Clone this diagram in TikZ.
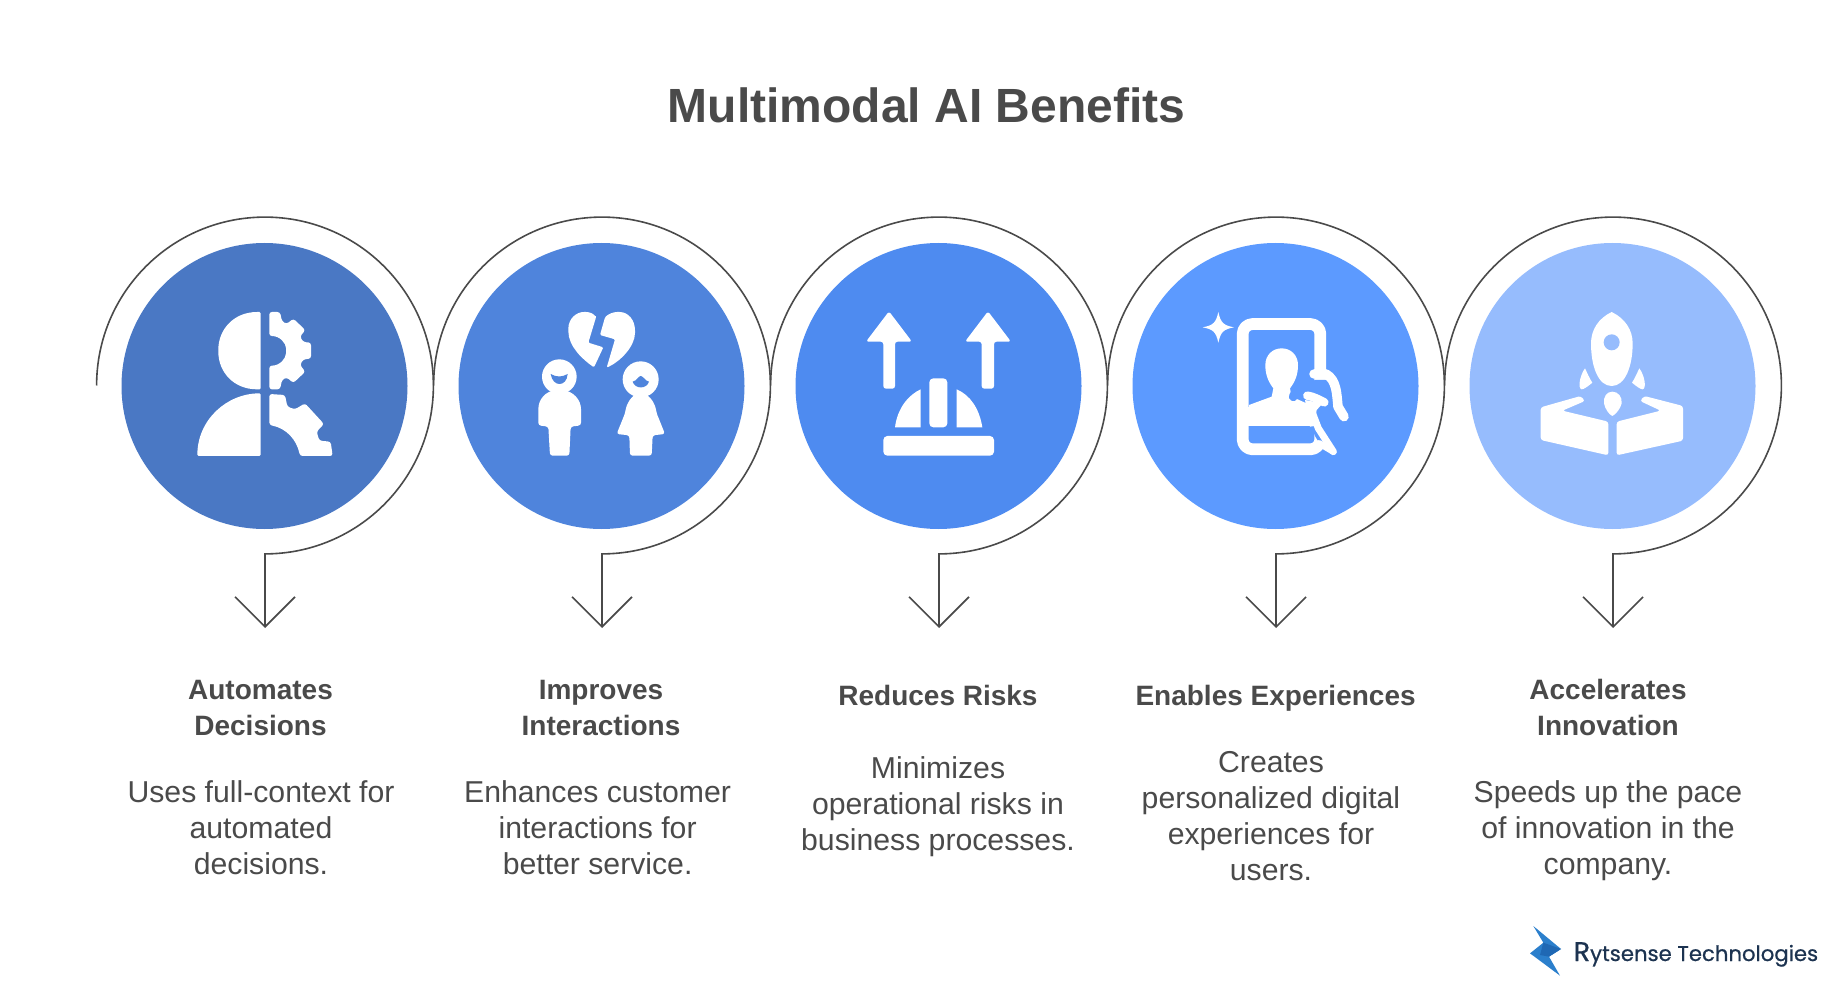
\documentclass[tikz,border=0pt]{standalone}
\usepackage{fontspec}
\setmainfont{Liberation Sans}
\newfontfamily\logofont[FakeBold=0.7]{Poppins}
\usetikzlibrary{arrows.meta}
\tikzset{
  badge/.style={circle, minimum size=286pt, inner sep=0pt},
  ringline/.style={draw=linegray, line width=1.6pt, -{Straight Barb[length=30pt,width=60pt]}},
  headtext/.style={anchor=base, align=center, text=textgray, font=\fontsize{28}{36}\selectfont\bfseries},
  bodytext/.style={anchor=base, align=center, text=textgray, font=\fontsize{30.2}{36}\selectfont},
  iconfill/.style={fill=white, rounded corners=1.2pt},
  iconsoft/.style={fill=white, rounded corners=2.6pt},
  iconline/.style={draw=white, line cap=round, line join=round}
}
\begin{document}
\begin{tikzpicture}[x=1pt,y=-1pt]
    \definecolor{linegray}{HTML}{4A4A4A}
    \definecolor{textgray}{HTML}{4A4A4A}
    \definecolor{bluea}{HTML}{4A78C4}
    \definecolor{blueb}{HTML}{4F84DC}
    \definecolor{bluec}{HTML}{4E8BF0}
    \definecolor{blued}{HTML}{5C9AFF}
    \definecolor{bluee}{HTML}{96BCFD}
    \definecolor{logoblue}{HTML}{2B7FCC}
    \definecolor{logodark}{HTML}{1F68B4}
    \definecolor{logotext}{HTML}{1C3350}

    \useasboundingbox (0,0) rectangle (1848,1008);

    \node[anchor=base, text=textgray, font=\fontsize{48}{48}\selectfont\bfseries] (title) at (926.5,123) {Multimodal AI Benefits};

    \node[badge, fill=bluea] (circ1) at (264.5,386) {};
    \node[badge, fill=blueb] (circ2) at (601.5,386) {};
    \node[badge, fill=bluec] (circ3) at (938.5,386) {};
    \node[badge, fill=blued] (circ4) at (1275.5,386) {};
    \node[badge, fill=bluee] (circ5) at (1612.5,386) {};

    \coordinate (ring1) at (96.6,385.5);
    \coordinate (ring2) at (433.6,385.5);
    \coordinate (ring3) at (770.6,385.5);
    \coordinate (ring4) at (1107.6,385.5);
    \coordinate (ring5) at (1444.6,385.5);
    \coordinate (tip1) at (265,628);
    \coordinate (tip2) at (602,628);
    \coordinate (tip3) at (939,628);
    \coordinate (tip4) at (1276,628);
    \coordinate (tip5) at (1613,628);

    \draw[ringline] (ring1) arc[start angle=180, end angle=450, radius=168.4] -- (tip1);
    \draw[ringline] (ring2) arc[start angle=180, end angle=450, radius=168.4] -- (tip2);
    \draw[ringline] (ring3) arc[start angle=180, end angle=450, radius=168.4] -- (tip3);
    \draw[ringline] (ring4) arc[start angle=180, end angle=450, radius=168.4] -- (tip4);
    \draw[ringline] (ring5) arc[start angle=180, end angle=450, radius=168.4] -- (tip5);

    \node[headtext] (head1) at (260.5,735.3) {Automates\\Decisions};
    \node[headtext] (head2) at (601,735.3) {Improves\\Interactions};
    \node[headtext] (head3) at (938,705.3) {Reduces Risks};
    \node[headtext] (head4) at (1275.6,705.3) {Enables Experiences};
    \node[headtext] (head5) at (1608,735.3) {Accelerates\\Innovation};

    \node[bodytext] (body1) at (261,874.3) {Uses full-context for\\automated\\decisions.};
    \node[bodytext] (body2) at (597.6,874.3) {Enhances customer\\interactions for\\better service.};
    \node[bodytext] (body3) at (938,850) {Minimizes\\operational risks in\\business processes.};
    \node[bodytext] (body4) at (1271,880) {Creates\\personalized digital\\experiences for\\users.};
    \node[bodytext] (body5) at (1608,874.3) {Speeds up the pace\\of innovation in the\\company.};

    \begin{scope}[shift={(190,300)},scale=1/3]
        \fill[iconfill] (212,36) -- (212,268) -- (205,268) .. controls (130,268) and (85,215) .. (85,152) .. controls (85,90) and (130,36) .. (205,36) -- cycle;
        \fill[iconfill] (22,468) .. controls (22,360) and (110,280) .. (212,280) -- (212,468) -- cycle;
        \fill[iconsoft] (238,36) -- (270,36) -- (276,64) -- (290,72) -- (310,56) -- (346,90) -- (330,110) -- (340,126) -- (363,128) -- (363,176) -- (340,178) -- (330,195) -- (346,215) -- (310,249) -- (290,232) -- (276,240) -- (270,268) -- (238,268) -- (238,197) .. controls (270,197) and (288,175) .. (288,152) .. controls (288,130) and (270,108) .. (238,108) -- cycle;
        \fill[iconsoft] (238,282) -- (285,285) -- (292,320) -- (315,328) -- (345,310) -- (402,372) -- (380,395) -- (388,422) -- (422,425) -- (428,468) -- (330,468) .. controls (320,420) and (290,385) .. (238,375) -- cycle;
    \end{scope}

    \begin{scope}[shift={(520,300)},scale=1/3]
        \fill[iconfill] (228,52) -- (205,128) -- (250,142) -- (222,202) .. controls (190,180) and (145,140) .. (145,90) .. controls (145,55) and (170,36) .. (195,36) .. controls (210,36) and (222,42) .. (228,52) -- cycle;
        \fill[iconfill] (255,52) .. controls (265,42) and (280,36) .. (295,36) .. controls (325,36) and (345,60) .. (345,95) .. controls (345,140) and (300,185) .. (260,203) -- (285,118) -- (240,105) -- cycle;
        \fill[white] (118,230) circle (52);
        \fill[blueb] (92,222) .. controls (110,232) and (125,232) .. (143,222) .. controls (140,262) and (98,262) .. (92,222) -- cycle;
        \fill[iconsoft] (118,270) .. controls (75,272) and (55,300) .. (55,335) -- (55,376) -- (85,380) -- (90,467) -- (148,467) -- (152,380) -- (183,376) -- (183,335) .. controls (183,300) and (160,272) .. (118,270) -- cycle;
        \fill[white] (362,238) circle (54);
        \fill[blueb] (338,245) .. controls (350,243) and (355,228) .. (362,228) .. controls (370,228) and (375,243) .. (387,245) .. controls (380,268) and (345,268) .. (338,245) -- cycle;
        \fill[iconsoft] (362,280) .. controls (335,285) and (320,310) .. (315,340) -- (290,402) -- (328,406) -- (330,467) -- (395,467) -- (398,406) -- (435,402) -- (410,340) .. controls (405,310) and (390,285) .. (362,280) -- cycle;
    \end{scope}

    \begin{scope}[shift={(860,300)},scale=1/3]
        \fill[iconsoft] (87,34) -- (156,125) -- (105,125) -- (105,266) -- (70,266) -- (70,125) -- (18,125) -- cycle;
        \fill[iconsoft] (384,34) -- (453,125) -- (402,125) -- (402,266) -- (365,266) -- (365,125) -- (315,125) -- cycle;
        \fill[fill=white, rounded corners=4pt] (208,382) -- (208,235) -- (262,235) -- (262,382) -- cycle;
        \fill[white] (105,382) .. controls (112,325) and (145,285) .. (182,268) -- (182,382) -- cycle;
        \fill[white] (290,268) .. controls (330,285) and (358,325) .. (367,382) -- (290,382) -- cycle;
        \fill[fill=white, rounded corners=4pt] (70,408) rectangle (402,467);
    \end{scope}

    \begin{scope}[shift={(1190,300)},scale=1/3]
        \fill[white] (85,36) .. controls (92,68) and (100,76) .. (132,82) .. controls (100,88) and (92,96) .. (85,128) .. controls (78,96) and (70,88) .. (38,82) .. controls (70,76) and (78,68) .. (85,36) -- cycle;
        \draw[iconline, line width=11.7pt, rounded corners=10pt] (158,72) rectangle (391,448);
        \fill[white] (170,322) rectangle (380,378);
        \fill[white] (177,315) -- (245,290) -- (250,265) .. controls (235,245) and (226,225) .. (226,195) .. controls (226,165) and (248,145) .. (275,145) .. controls (302,145) and (324,165) .. (324,195) .. controls (324,225) and (315,245) .. (300,265) -- (305,290) -- (372,320) -- (372,330) -- (177,330) -- cycle;
        \fill[blued] (375,240) -- (430,240) -- (470,370) -- (440,470) -- (396,440) -- (376,410) -- (365,385) -- (360,330) -- cycle;
        \draw[iconline, line width=6.5pt] (388,430) -- (430,455);
        \draw[draw=blued, line width=9pt, line cap=round] (310,290) .. controls (325,250) and (365,245) .. (392,262);
        \fill[white] (372,378) -- (360,380) -- (345,300) -- (398,310) -- (380,330) -- cycle;
        \draw[iconline, line width=8.5pt] (352,287) .. controls (372,290) and (388,300) .. (403,307);
        \draw[iconline, line width=9.5pt] (372,222) -- (408,222) .. controls (440,240) and (440,280) .. (444,320) -- (462,350);
        \draw[iconline, line width=7pt] (362,325) -- (385,385) -- (430,455);
    \end{scope}

    \begin{scope}[shift={(1530,300)},scale=1/3]
        \fill[white] (245,36) .. controls (205,55) and (183,90) .. (183,130) .. controls (183,200) and (205,258) .. (245,258) .. controls (285,258) and (308,200) .. (308,130) .. controls (308,90) and (285,55) .. (245,36) -- cycle;
        \fill[bluee] (245,127) circle (24);
        \fill[white] (165,205) .. controls (150,225) and (142,265) .. (155,268) .. controls (162,268) and (175,258) .. (187,248) .. controls (178,235) and (170,215) .. (165,205) -- cycle;
        \fill[white] (328,205) .. controls (343,225) and (351,265) .. (338,268) .. controls (331,268) and (318,258) .. (306,248) .. controls (315,235) and (323,215) .. (328,205) -- cycle;
        \fill[white] (247,275) .. controls (230,275) and (220,290) .. (222,310) .. controls (224,325) and (238,345) .. (247,348) .. controls (256,345) and (272,325) .. (275,310) .. controls (277,290) and (264,275) .. (247,275) -- cycle;
        \fill[iconsoft] (32,322) -- (152,288) -- (165,303) -- (97,332) -- (235,365) -- (235,466) -- (32,420) -- cycle;
        \fill[iconsoft] (459,318) -- (343,288) -- (330,303) -- (392,332) -- (260,365) -- (260,466) -- (459,422) -- cycle;
    \end{scope}

    \begin{scope}[shift={(1480,900)},scale=1/3]
        \fill[logoblue] (160,78) -- (243,147) -- (207,170) -- (240,227) -- (150,160) -- (190,128) -- cycle;
        \fill[logodark] (190,128) -- (243,147) -- (207,170) -- (180,165) -- cycle;
    \end{scope}
    \node[anchor=base west, inner sep=0pt, text=logotext, font=\logofont\fontsize{21.2}{23}\selectfont] (logo) at (1573.5,961) {\fontsize{27}{27}\selectfont R\fontsize{21.2}{23}\selectfont ytsense Technologies};
\end{tikzpicture}
\end{document}
